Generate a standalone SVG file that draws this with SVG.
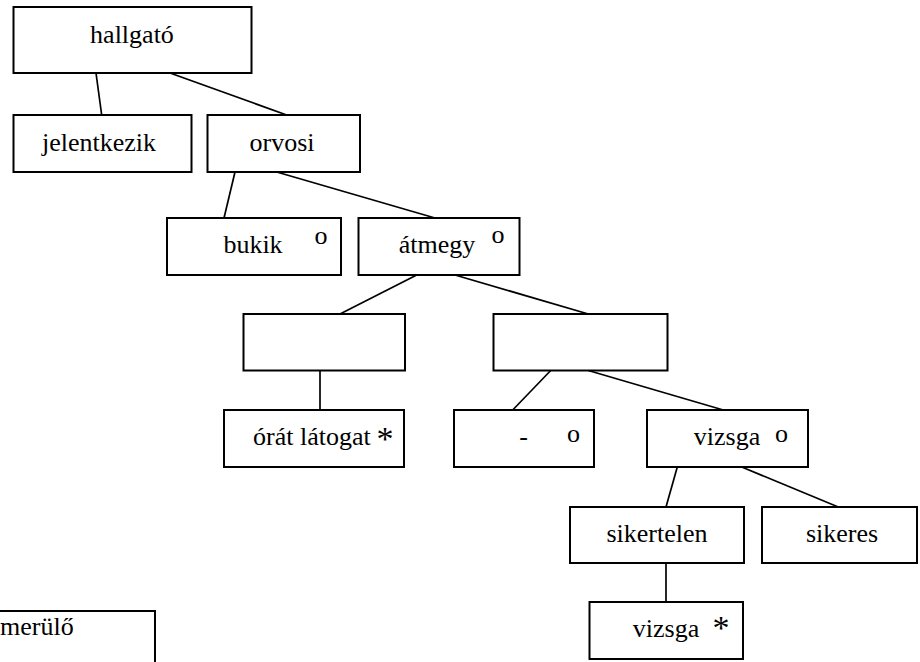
<svg xmlns="http://www.w3.org/2000/svg" width="920" height="662" viewBox="0 0 920 662">
<style>
  .box { fill: #ffffff; stroke: #000000; stroke-width: 2; }
  .lbl { font-family: 'Liberation Serif', 'Times New Roman', serif; font-size: 26px; fill: #000000; text-anchor: middle; }
  .ast { font-family: 'Liberation Serif', 'Times New Roman', serif; font-size: 34px; fill: #000000; text-anchor: middle; }
  .conn line { stroke: #000000; stroke-width: 1.7; }
</style>
<rect x="0" y="0" width="920" height="662" fill="#ffffff"/>
<g id="connectors" class="conn">
  <line x1="96" y1="73" x2="101.7" y2="115"/>
  <line x1="170" y1="73" x2="286.7" y2="115"/>
  <line x1="235" y1="172" x2="224" y2="218"/>
  <line x1="276.7" y1="172" x2="435" y2="218"/>
  <line x1="416.7" y1="275" x2="340" y2="314"/>
  <line x1="455" y1="275" x2="588.3" y2="314"/>
  <line x1="320" y1="370.5" x2="320" y2="410"/>
  <line x1="550.7" y1="370.5" x2="512.7" y2="410"/>
  <line x1="588.3" y1="370.5" x2="723.3" y2="410"/>
  <line x1="677.3" y1="467" x2="666" y2="507"/>
  <line x1="741.7" y1="467" x2="838.3" y2="507"/>
  <line x1="666" y1="563" x2="666" y2="602"/>
</g>
<g id="hallgato">
  <rect class="box" x="13.5" y="7" width="238" height="66"/>
  <text class="lbl" x="132" y="43">hallgató</text>
</g>
<g id="jelentkezik">
  <rect class="box" x="13.5" y="115" width="178" height="57"/>
  <text class="lbl" x="99" y="151">jelentkezik</text>
</g>
<g id="orvosi">
  <rect class="box" x="207.5" y="115" width="152.5" height="57"/>
  <text class="lbl" x="282" y="151">orvosi</text>
</g>
<g id="bukik">
  <rect class="box" x="167" y="218" width="174" height="57"/>
  <text class="lbl" x="253" y="253">bukik</text>
  <text class="lbl" x="321" y="244">o</text>
</g>
<g id="atmegy">
  <rect class="box" x="358.5" y="218" width="161" height="57"/>
  <text class="lbl" x="437" y="253">átmegy</text>
  <text class="lbl" x="498" y="243">o</text>
</g>
<g id="ures1">
  <rect class="box" x="243.5" y="314" width="161.5" height="56.5"/>
</g>
<g id="ures2">
  <rect class="box" x="493.5" y="314" width="174" height="56.5"/>
</g>
<g id="orat-latogat">
  <rect class="box" x="224" y="410" width="180" height="57"/>
  <text class="lbl" x="253" y="445" style="text-anchor:start">órát látogat</text>
  <text class="ast" x="385" y="450">*</text>
</g>
<g id="semmi">
  <rect class="box" x="454" y="410" width="140" height="57"/>
  <text class="lbl" x="523.5" y="445">-</text>
  <text class="lbl" x="573.5" y="442">o</text>
</g>
<g id="vizsga">
  <rect class="box" x="647" y="410" width="161" height="57"/>
  <text class="lbl" x="727" y="445">vizsga</text>
  <text class="lbl" x="781.5" y="442">o</text>
</g>
<g id="sikertelen">
  <rect class="box" x="570" y="507" width="174" height="56"/>
  <text class="lbl" x="657" y="542">sikertelen</text>
</g>
<g id="sikeres">
  <rect class="box" x="762" y="507" width="155" height="56"/>
  <text class="lbl" x="842" y="542">sikeres</text>
</g>
<g id="vizsga2">
  <rect class="box" x="589.5" y="602" width="153.5" height="57"/>
  <text class="lbl" x="666" y="637">vizsga</text>
  <text class="ast" x="721" y="638.5">*</text>
</g>
<g id="felmerulo">
  <rect class="box" x="-10" y="611" width="165" height="60"/>
  <text class="lbl" x="0" y="635" style="text-anchor:start">merülő</text>
</g>
</svg>
